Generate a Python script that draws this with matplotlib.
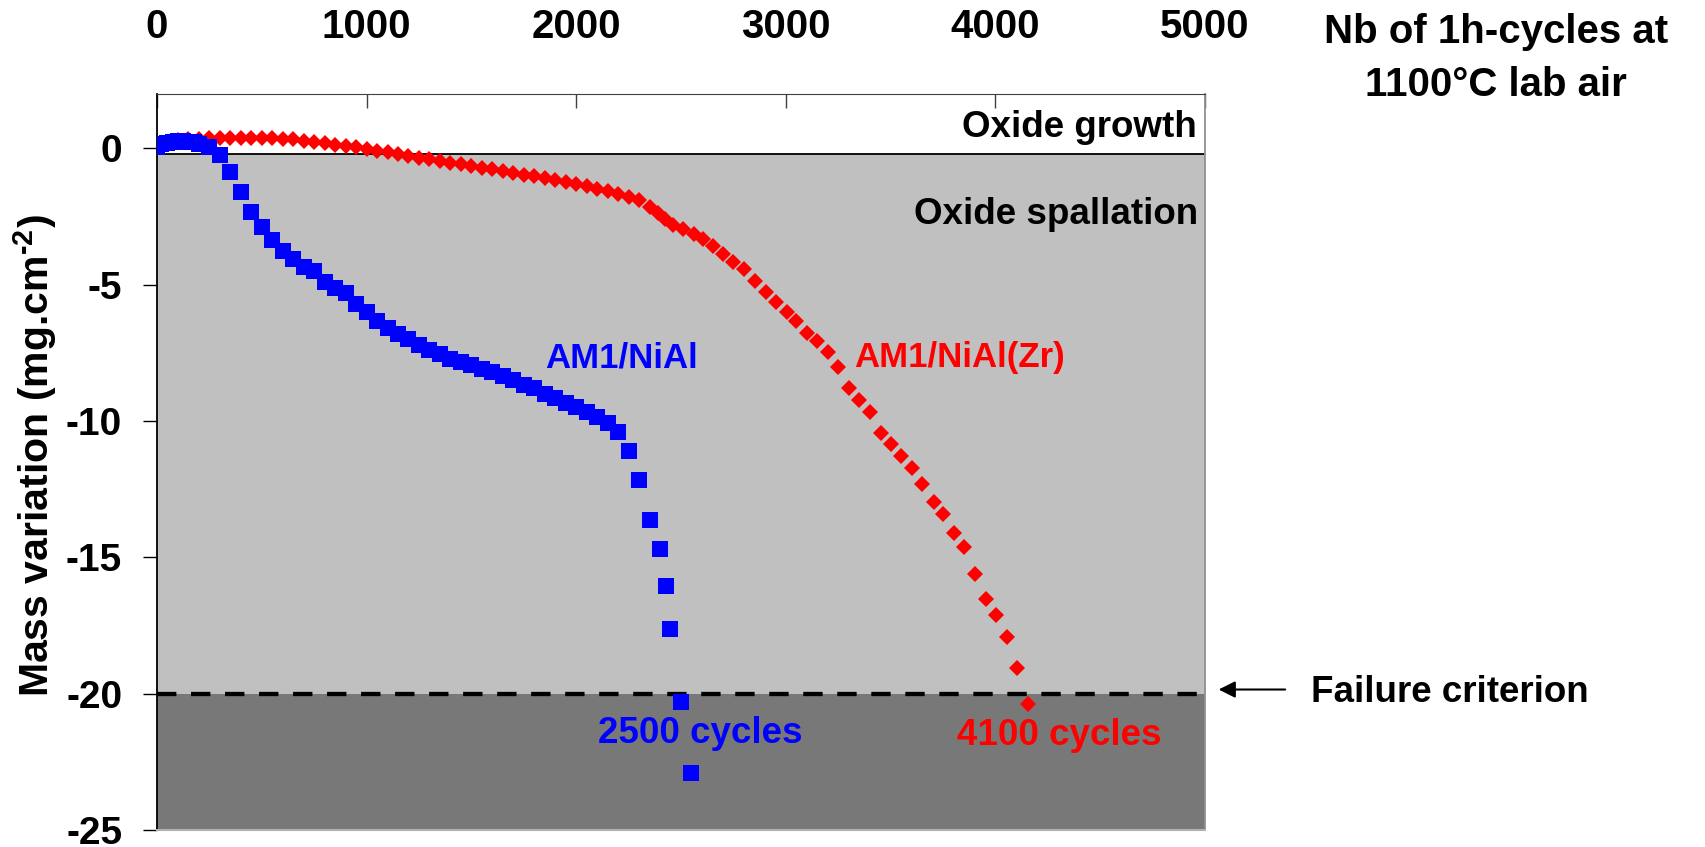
import numpy as np
import matplotlib
matplotlib.use("Agg")
import matplotlib.pyplot as plt

plt.rcParams['font.family'] = ['Liberation Sans', 'DejaVu Sans']
plt.rcParams['font.weight'] = 'bold'
plt.rcParams['axes.unicode_minus'] = False
plt.rcParams['mathtext.fontset'] = 'custom'
plt.rcParams['mathtext.rm'] = 'Liberation Sans:bold'
plt.rcParams['mathtext.bf'] = 'Liberation Sans:bold'
plt.rcParams['mathtext.default'] = 'rm'

# AM1/NiAl (blue squares)
niAl_cycles = [0, 20, 50, 75, 100, 125, 150, 175, 200, 250,
               300, 350, 400, 450, 500, 550, 600, 650, 700, 750,
               800, 850, 900, 950, 1000, 1050, 1100, 1150, 1200, 1250,
               1300, 1350, 1400, 1450, 1500, 1550, 1600, 1650, 1700, 1750,
               1800, 1850, 1900, 1950, 2000, 2050, 2100, 2150, 2200, 2250,
               2300, 2350, 2400, 2430, 2450, 2500, 2550]
niAl_mass = [0.05, 0.14, 0.20, 0.23, 0.25, 0.25, 0.24, 0.22, 0.15, 0.05,
             -0.24, -0.87, -1.62, -2.33, -2.89, -3.38, -3.77, -4.05, -4.36, -4.52,
             -4.92, -5.14, -5.32, -5.72, -5.99, -6.35, -6.59, -6.81, -6.98, -7.23,
             -7.41, -7.56, -7.72, -7.85, -7.96, -8.08, -8.20, -8.35, -8.51, -8.67,
             -8.81, -9.00, -9.17, -9.33, -9.50, -9.67, -9.84, -10.07, -10.40, -11.11,
             -12.15, -13.64, -14.71, -16.06, -17.62, -20.31, -22.92]

# AM1/NiAl(Zr) (red diamonds)
zr_cycles = [0, 50, 100, 150, 200, 250, 300, 350, 400, 450,
             500, 550, 600, 650, 700, 750, 800, 850, 900, 950,
             1000, 1050, 1100, 1150, 1200, 1250, 1300, 1350, 1400, 1450,
             1500, 1550, 1600, 1650, 1700, 1750, 1800, 1850, 1900, 1950,
             2000, 2050, 2100, 2150, 2200, 2250, 2300, 2350, 2390, 2425,
             2460, 2510, 2560, 2605, 2655, 2700, 2750, 2800, 2855, 2905,
             2955, 3005, 3050, 3100, 3150, 3200, 3250, 3300, 3350, 3400,
             3455, 3500, 3550, 3600, 3650, 3705, 3750, 3805, 3850, 3905,
             3955, 4005, 4055, 4105, 4155]
zr_mass = [0.10, 0.20, 0.30, 0.33, 0.35, 0.37, 0.38, 0.39, 0.39, 0.39,
           0.38, 0.37, 0.35, 0.32, 0.28, 0.23, 0.18, 0.13, 0.08, 0.03,
           -0.03, -0.09, -0.15, -0.22, -0.28, -0.35, -0.41, -0.47, -0.53, -0.59,
           -0.66, -0.72, -0.78, -0.84, -0.90, -0.97, -1.03, -1.09, -1.15, -1.23,
           -1.32, -1.38, -1.48, -1.56, -1.68, -1.78, -1.90, -2.15, -2.39, -2.61,
           -2.82, -2.98, -3.15, -3.34, -3.59, -3.88, -4.16, -4.44, -4.86, -5.26,
           -5.63, -5.99, -6.32, -6.79, -7.06, -7.46, -8.01, -8.80, -9.23, -9.69,
           -10.45, -10.84, -11.27, -11.73, -12.32, -12.99, -13.42, -14.11, -14.62, -15.61,
           -16.52, -17.13, -17.92, -19.06, -20.38]

x_ticks = [0, 1000, 2000, 3000, 4000, 5000]
y_ticks = [0, -5, -10, -15, -20, -25]
failure_level = -20
spall_level = -0.2

fig = plt.figure(figsize=(17.06, 8.47), dpi=100)
ax = fig.add_axes([0.092, 0.0201, 0.6143, 0.8694])

ax.axhspan(-25, failure_level, color='#787878', zorder=0, lw=0)
ax.axhspan(failure_level, spall_level, color='#c0c0c0', zorder=0, lw=0)
ax.axhline(spall_level, color='black', lw=1.3, zorder=1)
ax.axhline(failure_level, color='black', lw=3.1, dashes=(4.5, 3.4), zorder=2)

ax.plot(zr_cycles, zr_mass, linestyle='none', marker='D', markersize=8.2,
        color='#ff0000', markeredgewidth=0, zorder=3)
ax.plot(niAl_cycles, niAl_mass, linestyle='none', marker='s', markersize=12,
        color='#0000ff', markeredgewidth=0, zorder=4)

ax.set_xlim(0, 5000)
ax.set_ylim(-25, 2)
ax.xaxis.tick_top()
ax.set_xticks(x_ticks)
ax.set_yticks(y_ticks)
ax.tick_params(axis='x', direction='in', length=10, width=1, pad=34,
               labelsize=29, color='#404040')
ax.tick_params(axis='y', direction='out', length=10, width=1, pad=15,
               labelsize=28)

ax.spines['top'].set_color('#404040')
ax.spines['left'].set_color('black')
ax.spines['left'].set_linewidth(1.3)
ax.spines['right'].set_color('#909090')
ax.spines['right'].set_linewidth(1.3)
ax.spines['bottom'].set_color('#b0b0b0')
ax.spines['bottom'].set_linewidth(1.5)

ax.text(4962, 0.42, 'Oxide growth', ha='right', va='baseline', fontsize=26.5)
ax.text(4967, -2.78, 'Oxide spallation', ha='right', va='baseline', fontsize=26.5)
ax.text(1851, -8.06, 'AM1/NiAl', color='#0000ff', ha='left', va='baseline', fontsize=25)
ax.text(3325, -8.01, 'AM1/NiAl(Zr)', color='#ff0000', ha='left', va='baseline', fontsize=25)
ax.text(2104, -21.8, '2500 cycles', color='#0000ff', ha='left', va='baseline', fontsize=26.5)
ax.text(3817, -21.88, '4100 cycles', color='#ff0000', ha='left', va='baseline', fontsize=26.5)

ax.annotate('', xy=(5052, -19.85), xytext=(5396, -19.85), annotation_clip=False,
            arrowprops=dict(arrowstyle='-|>', color='black', lw=1.5, mutation_scale=25))
ax.text(5506, -20.3, 'Failure criterion', ha='left', va='baseline', fontsize=26.5,
        clip_on=False)

fig.text(1496 / 1706, 1 - 43 / 847, 'Nb of 1h-cycles at', ha='center', va='baseline', fontsize=29)
fig.text(1496 / 1706, 1 - 96 / 847, '1100°C lab air', ha='center', va='baseline', fontsize=29)
fig.text(35 / 1706, 1 - 456 / 847, 'Mass variation (mg.cm$^{\\text{-2}}$)', rotation=90,
         ha='center', va='center', fontsize=29.5)

fig.savefig('out.png', dpi=100)
